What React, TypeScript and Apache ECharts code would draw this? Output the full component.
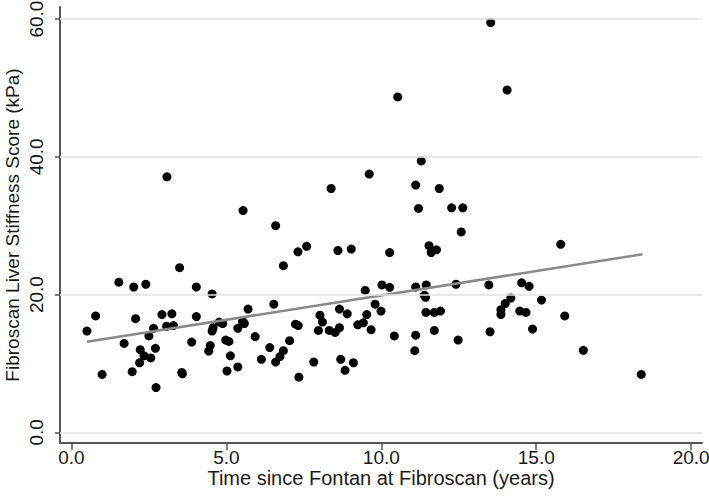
import React, { useEffect, useRef } from "react";
import * as echarts from "echarts";

const timeYears: number[] = [
  3.08, 3.49, 1.53, 2.01, 2.4, 4.03, 4.54, 0.78, 0.5, 2.07, 2.92, 3.24, 4.03, 2.65, 3.07, 3.29,
  2.5, 1.7, 2.22, 2.71, 2.34, 2.56, 2.2, 3.88, 0.99, 1.96, 3.56, 3.58, 2.73, 4.77, 4.88, 4.57,
  4.54, 4.98, 5.08, 4.48, 4.43, 5.13, 5.02,
  9.61, 8.38, 5.54, 6.59, 7.31, 7.59, 6.84, 8.6, 9.03, 10.27, 9.48, 10.02, 10.27, 5.7, 6.53, 5.37,
  5.52, 5.58, 5.93, 5.37, 6.13, 6.4, 6.59, 6.73, 6.84, 7.04, 7.23, 7.32, 7.34, 7.82, 8.02, 8.1,
  7.97, 8.32, 8.51, 8.65, 8.65, 8.9, 8.69, 8.83, 9.1, 9.24, 9.42, 9.53, 9.67, 9.8, 9.99, 10.42,
  10.53,
  11.29, 11.11, 11.87, 11.2, 12.27, 12.63, 12.58, 11.54, 11.61, 11.78, 11.11, 11.45, 11.39, 11.43,
  12.41, 13.47, 14.53, 14.77, 11.44, 11.71, 11.91, 11.11, 11.71, 11.08, 12.48, 13.51, 13.86, 13.86,
  14.0, 14.18, 14.47, 14.67, 15.17, 14.88,
  13.53, 14.06,
  15.79, 15.92, 16.52, 18.39,
];

const stiffnessKPa: number[] = [
  37.1, 23.9, 21.8, 21.1, 21.5, 21.1, 20.1, 16.9, 14.7, 16.5, 17.1, 17.2, 16.8, 15.1, 15.4, 15.5,
  14.0, 12.9, 12.0, 12.2, 11.1, 10.8, 10.1, 13.1, 8.4, 8.8, 8.7, 8.5, 6.5, 16.0, 15.8, 15.2,
  14.7, 13.4, 13.2, 12.6, 11.8, 11.1, 8.9,
  37.5, 35.4, 32.2, 30.0, 26.2, 27.0, 24.2, 26.4, 26.6, 26.1, 20.6, 21.4, 21.05, 17.9, 18.6, 15.1,
  16.1, 15.8, 13.9, 9.5, 10.6, 12.3, 10.2, 11.0, 11.85, 13.3, 15.7, 15.5, 8.0, 10.2, 17.0, 16.0,
  14.8, 14.8, 14.5, 15.2, 17.9, 17.2, 10.6, 9.0, 10.1, 15.6, 15.9, 17.1, 14.9, 18.6, 17.6, 14.0,
  48.7,
  39.4, 35.9, 35.4, 32.5, 32.6, 32.6, 29.1, 27.1, 26.1, 26.5, 21.1, 21.4, 19.9, 19.6,
  21.5, 21.4, 21.7, 21.2, 17.4, 17.4, 17.6, 14.1, 14.8, 11.85, 13.4, 14.6, 17.8, 17.1,
  18.7, 19.5, 17.6, 17.4, 19.2, 15.0,
  59.5, 49.7,
  27.3, 16.9, 11.9, 8.4,
];

const fitX: number[] = [0.5, 18.43];
const fitY: number[] = [13.15, 25.85];

const xTicks: number[] = [0, 5, 10, 15, 20];
const yTicks: number[] = [0, 20, 40, 60];

const FONT = "Arial, 'Liberation Sans', Helvetica, sans-serif";
const TEXT = "#1a1a1a";
const AXIS = "#555555";

export default function App() {
  const ref = useRef<HTMLDivElement>(null);
  useEffect(() => {
    if (!ref.current) return;
    const chart = echarts.init(ref.current, undefined, { renderer: "svg" });
    const points = timeYears.map((x, i) => [x, stiffnessKPa[i]]);
    const fit = fitX.map((x, i) => [x, fitY[i]]);
    chart.setOption({
      animation: false,
      backgroundColor: "#ffffff",
      grid: { left: 60, right: 7, top: 7, bottom: 61, containLabel: false, outerBoundsMode: "none" },
      xAxis: {
        type: "value",
        min: -0.37,
        max: 20.35,
        name: "Time since Fontan at Fibroscan (years)",
        nameLocation: "middle",
        nameGap: 26,
        nameMoveOverlap: false,
        nameTextStyle: { fontFamily: FONT, fontSize: 20, lineHeight: 17, color: TEXT },
        axisLine: { show: true, onZero: false, lineStyle: { color: AXIS, width: 2 } },
        axisTick: { show: true, length: 7, customValues: xTicks, lineStyle: { color: AXIS, width: 1.5 } },
        axisLabel: {
          customValues: xTicks,
          formatter: (v: number) => v.toFixed(1),
          fontFamily: FONT,
          fontSize: 19,
          lineHeight: 14,
          color: TEXT,
          margin: 7,
        },
        splitLine: { show: false },
      },
      yAxis: {
        type: "value",
        min: -1.55,
        max: 61.75,
        name: "Fibroscan Liver Stiffness Score (kPa)",
        nameLocation: "middle",
        nameGap: 38,
        nameMoveOverlap: false,
        nameTextStyle: { fontFamily: FONT, fontSize: 19, color: TEXT },
        axisLine: { show: true, onZero: false, lineStyle: { color: AXIS, width: 2 } },
        axisTick: { show: true, length: 5, customValues: yTicks, lineStyle: { color: AXIS, width: 1.5 } },
        axisLabel: {
          customValues: yTicks,
          formatter: (v: number) => v.toFixed(1),
          rotate: 90,
          fontFamily: FONT,
          fontSize: 19,
          color: TEXT,
          margin: 14,
        },
        splitLine: { show: false },
      },
      series: [
        {
          type: "line",
          data: [],
          z: 0,
          silent: true,
          markLine: {
            silent: true,
            symbol: "none",
            label: { show: false },
            lineStyle: { color: "#e2e2e2", width: 1.5, type: "solid" },
            data: yTicks.map((v) => ({ yAxis: v })),
          },
        },
        {
          type: "scatter",
          data: points,
          symbol: "circle",
          symbolSize: 9,
          z: 3,
          itemStyle: { color: "#000000", opacity: 1 },
        },
        {
          type: "line",
          data: fit,
          z: 4,
          symbol: "none",
          lineStyle: { color: "#8a8a8a", width: 2.5 },
        },
      ],
    });
    return () => chart.dispose();
  }, []);
  return (
    <div
      ref={ref}
      style={{ position: "absolute", left: 0, top: 0, width: 709, height: 504, background: "#fff" }}
    />
  );
}
